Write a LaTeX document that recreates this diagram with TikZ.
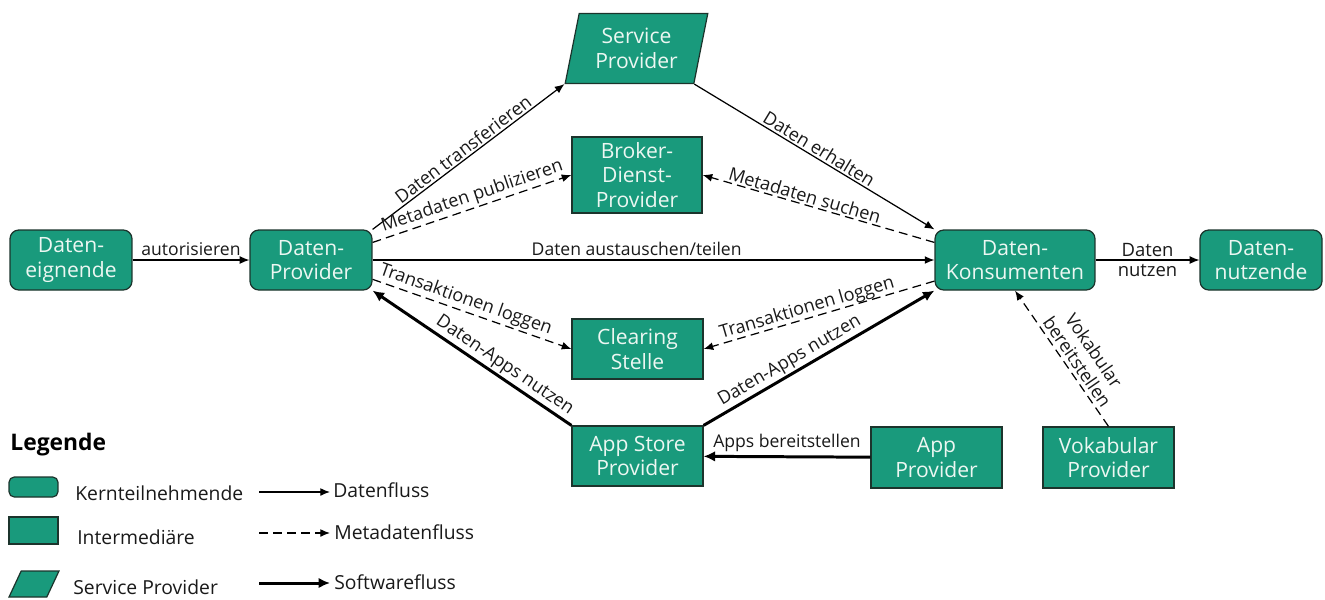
\documentclass[tikz,border=0pt]{standalone}
\usepackage{fontspec}
\setmainfont{Open Sans}
\usetikzlibrary{arrows.meta,shapes.geometric}
\definecolor{boxfill}{RGB}{25,154,124}
\definecolor{boxdraw}{RGB}{28,52,44}
\definecolor{boxtext}{RGB}{236,247,242}
\definecolor{labtext}{RGB}{25,25,25}
\begin{document}
\begin{tikzpicture}[x=0.02cm,y=-0.02cm,
  box/.style={draw=boxdraw, line width=0.7pt, fill=boxfill, text=boxtext, font=\fontsize{12}{14}\selectfont, align=center, inner sep=0pt},
  core/.style={box, rounded corners=5pt},
  inter/.style={box},
  spshape/.style={box, trapezium, trapezium left angle=76, trapezium right angle=104, trapezium stretches=true},
  lab/.style={font=\fontsize{10}{11.5}\selectfont, text=labtext, inner sep=2pt},
  slab/.style={font=\fontsize{10.3}{11.5}\selectfont, text=labtext, inner sep=1pt, above, sloped},
  legtext/.style={font=\fontsize{11}{13}\selectfont, text=labtext, inner sep=0pt, anchor=west},
  flow/.style={draw=black, line width=0.7pt, -{Latex[length=5.5pt,width=4.5pt]}},
  meta/.style={flow, dash pattern=on 5pt off 3pt},
  soft/.style={draw=black, line width=1.7pt, -{Latex[length=6.5pt,width=6pt]}},
]
\useasboundingbox (0,0) rectangle (1325,599);

% nodes
\node[core, minimum width=2.44cm, minimum height=1.2cm] (eig) at (71,260) {Daten-\\eignende};
\node[core, minimum width=2.44cm, minimum height=1.2cm] (prov) at (311,260) {Daten-\\Provider};
\node[core, minimum width=3.2cm, minimum height=1.2cm] (kons) at (1015,260) {Daten-\\Konsumenten};
\node[core, minimum width=2.44cm, minimum height=1.2cm] (nutz) at (1261,260) {Daten-\\nutzende};
\node[spshape, minimum width=2.86cm, minimum height=1.4cm] (sp) at (636.5,48.5) {Service\\Provider};
\node[inter, minimum width=2.6cm, minimum height=1.52cm] (broker) at (637,175) {Broker-\\Dienst-\\Provider};
\node[inter, minimum width=2.62cm, minimum height=1.2cm] (clear) at (637.5,349) {Clearing\\Stelle};
\node[inter, minimum width=2.62cm, minimum height=1.2cm] (store) at (637.5,456) {App Store\\Provider};
\node[inter, minimum width=2.62cm, minimum height=1.22cm] (appp) at (936.5,457.5) {App\\Provider};
\node[inter, minimum width=2.62cm, minimum height=1.22cm] (vok) at (1108.5,457.5) {Vokabular\\Provider};

% connectors
\draw[flow] (eig) -- node[lab, above]{autorisieren} (prov);
\draw[flow] (prov.north east) -- node[slab]{Daten transferieren} (sp.bottom left corner);
\draw[flow] (sp.bottom right corner) -- node[slab]{Daten erhalten} (kons.north west);
\draw[meta] ([yshift=10pt]prov.east) -- node[slab, pos=0.52]{Metadaten publizieren} (broker.west);
\draw[meta] ([yshift=10pt]kons.west) -- node[slab, pos=0.57]{Metadaten suchen} (broker.east);
\draw[flow] (prov) -- node[lab, above, pos=0.47]{Daten austauschen/teilen} (kons);
\draw[flow] (kons) -- node[lab, align=center, font=\fontsize{10.5}{11.8}\selectfont]{Daten\\nutzen} (nutz);
\draw[meta] ([yshift=-11pt]prov.east) -- node[slab, pos=0.45]{Transaktionen loggen} (clear.west);
\draw[meta] ([yshift=-12pt]kons.west) -- node[slab, inner sep=0pt, pos=0.54]{Transaktionen loggen} (clear.east);
\draw[soft] (store.north west) -- node[slab, pos=0.37]{Daten-Apps nutzen} (prov.south east);
\draw[soft] (store.north east) -- node[slab, pos=0.4]{Daten-Apps nutzen} (kons.south west);
\draw[soft] (appp) -- node[lab, above]{Apps bereitstellen} (store);
\draw[meta] (vok.north) -- node[slab, inner sep=2pt, pos=0.43, align=center]{Vokabular\\bereitstellen} (kons.south);

% legend
\node[font=\bfseries\fontsize{13}{15}\selectfont, text=black, anchor=west, inner sep=0pt] (leg) at (10,445) {Legende};
\node[core, rounded corners=3pt, minimum width=0.98cm, minimum height=0.4cm] (lk) at (33.5,487) {};
\node[inter, minimum width=0.98cm, minimum height=0.54cm] (li) at (33.5,530.5) {};
\node[box, trapezium, trapezium left angle=69, trapezium right angle=111, trapezium stretches=true, minimum width=1.0cm, minimum height=0.52cm] (ls) at (34,584) {\phantom{X}};
\node[legtext] (lkt) at (75,493) {Kernteilnehmende};
\node[legtext] (lit) at (77,537) {Intermediäre};
\node[legtext] (lst) at (73,587) {Service Provider};
\coordinate (a1s) at (259,492); \coordinate (a1e) at (330,492);
\coordinate (a2s) at (259,533); \coordinate (a2e) at (330,533);
\coordinate (a3s) at (259,583); \coordinate (a3e) at (330,583);
\draw[flow] (a1s) -- (a1e);
\draw[meta] (a2s) -- (a2e);
\draw[soft] (a3s) -- (a3e);
\node[legtext] (l1) at (333,490) {Datenfluss};
\node[legtext] (l2) at (334,532) {Metadatenfluss};
\node[legtext] (l3) at (334,582) {Softwarefluss};
\end{tikzpicture}
\end{document}
